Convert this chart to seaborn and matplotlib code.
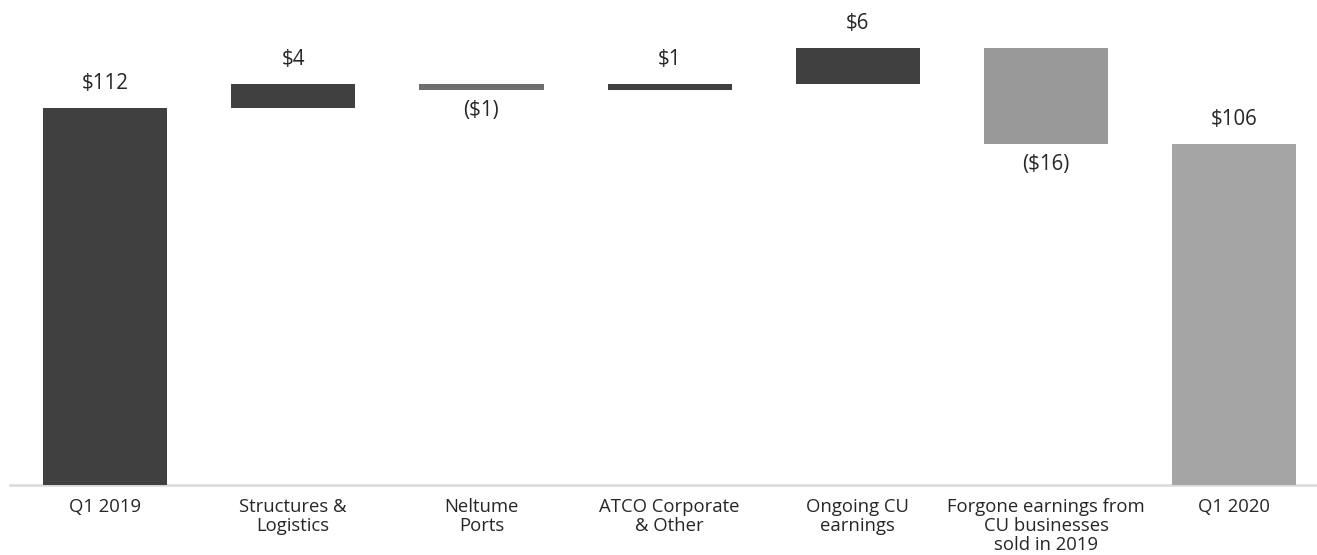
import numpy as np
import pandas as pd
import matplotlib
matplotlib.use("Agg")
import matplotlib.pyplot as plt
import seaborn as sns

# chart data (earnings bridge, $ millions)
categories = [
    "Q1 2019",
    "Structures &\nLogistics",
    "Neltume\nPorts",
    "ATCO Corporate\n& Other",
    "Ongoing CU\nearnings",
    "Forgone earnings from\nCU businesses\nsold in 2019",
    "Q1 2020",
]
values = [112, 4, -1, 1, 6, -16, 106]
is_total = [True, False, False, False, False, False, True]

# bar colours, one per category
bar_colors = ["#404040", "#404040", "#6e6e6e", "#404040", "#404040", "#999999", "#a5a5a5"]

sns.set_theme(style="white")
plt.rcParams["font.family"] = ["Open Sans", "DejaVu Sans"]
plt.rcParams["text.color"] = "#262626"


def waterfall_frame(cats, vals, totals):
    """Work out the bottom and span of every bar in the bridge."""
    rows = []
    running = 0
    for cat, val, tot in zip(cats, vals, totals):
        if tot:
            bottom, span = 0, val
            running = val
        else:
            bottom = running if val >= 0 else running + val
            span = abs(val)
            running += val
        rows.append({"category": cat, "value": val, "bottom": bottom,
                     "span": span, "top": bottom + span, "total": tot})
    return pd.DataFrame(rows)


def fmt_label(v):
    return f"${v}" if v >= 0 else f"(${abs(v)})"


def main():
    df = waterfall_frame(categories, values, is_total)

    fig = plt.figure(figsize=(13.17, 5.55), dpi=100)
    ax = fig.add_axes([10 / 1317, 70 / 555, 1307 / 1317, 485 / 555])

    sns.barplot(data=df, x="category", y="span", order=categories,
                width=0.66, ax=ax, zorder=3, linewidth=0)

    # lift each bar onto its running total and colour it
    for patch, bottom, col in zip(ax.patches, df["bottom"], bar_colors):
        patch.set_y(bottom)
        patch.set_facecolor(col)
        patch.set_edgecolor(col)

    # value labels
    for i, row in df.iterrows():
        if row["value"] >= 0:
            ax.annotate(fmt_label(row["value"]), (i, row["top"]),
                        xytext=(0, 10), textcoords="offset points",
                        ha="center", va="bottom", fontsize=14.8)
        else:
            ax.annotate(fmt_label(row["value"]), (i, row["bottom"]),
                        xytext=(0, -7), textcoords="offset points",
                        ha="center", va="top", fontsize=14.8)

    ax.set_ylim(49.5, 129.9)
    ax.set_xlim(-0.505, 6.44)
    ax.set_xlabel("")
    ax.set_ylabel("")
    ax.set_yticks([])
    ax.tick_params(axis="x", length=0, pad=9.5, labelsize=13.3, labelcolor="#262626")
    for lbl in ax.get_xticklabels():
        lbl.set_linespacing(1.08)

    for side in ["top", "right", "left"]:
        ax.spines[side].set_visible(False)
    ax.spines["bottom"].set_color("#d9d9d9")
    ax.spines["bottom"].set_linewidth(1.8)
    ax.spines["bottom"].set_zorder(1)

    fig.savefig("out.png", dpi=100)
    plt.close(fig)


if __name__ == "__main__":
    main()
